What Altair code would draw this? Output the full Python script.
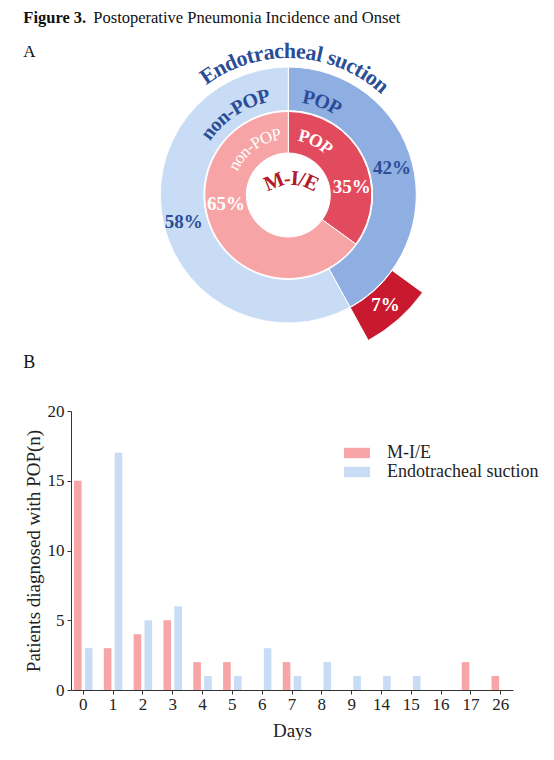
import math
import altair as alt
import pandas as pd

# panel A: share of patients with / without postoperative pneumonia (%)
statuses = ["POP", "non-POP"]
mie_pct = [35, 65]
es_pct = [42, 58]

# panel B: onset day of POP
days = ["0", "1", "2", "3", "4", "5", "6", "7", "8", "9", "14", "15", "16", "17", "26"]
mie_counts = [15, 3, 4, 5, 2, 2, 0, 2, 0, 0, 0, 0, 0, 2, 1]
es_counts = [3, 17, 5, 6, 1, 1, 3, 1, 2, 1, 1, 1, 0, 0, 0]
groups = ["M-I/E", "Endotracheal suction"]

SERIF = "Liberation Serif"
BLUE_TXT = "#2b4d97"
RED_TXT = "#b3182c"
fills = {("M-I/E", "POP"): "#e24a5e", ("M-I/E", "non-POP"): "#f7a4a6",
         ("ES", "POP"): "#8fafe2", ("ES", "non-POP"): "#c8dcf5"}
WEDGE_FILL = "#c8192f"
BAR_COLORS = ["#f8a5a8", "#c8dcf5"]

## panel A shares its x origin with the plot area of panel B
LEFT = -47.7
CX, CY = 217.3, 185   # donut centre inside panel A
theta_scale = alt.Scale(domain=[0, 360], range=[0, 2 * math.pi])

## rough Times glyph widths (em) so curved labels can be laid out char by char
W_REG = {"n": .5, "o": .5, "-": .333, "P": .556, "O": .722, " ": .25}
W_BOLD = {"E": .667, "n": .556, "d": .556, "o": .5, "t": .333, "r": .444, "a": .5,
          "c": .444, "h": .556, "e": .444, "l": .278, " ": .25, "s": .389, "u": .556,
          "i": .278, "-": .333, "P": .611, "O": .778, "M": .944, "I": .389, "/": .278}


def ring_df(name, pcts):
    rows, cum = [], 0
    for s, p in zip(statuses, pcts):
        rows.append({"status": s, "t0": cum * 3.6, "t1": (cum + p) * 3.6,
                     "fill": fills[(name, s)]})
        cum += p
    return pd.DataFrame(rows)


def curved(text, center, r, fs, col, bold=True):
    widths = W_BOLD if bold else W_REG
    w = [widths.get(c, 0.5) * fs for c in text]
    start = center - math.degrees(sum(w) / r) / 2
    rows, cum = [], 0
    for c, wi in zip(text, w):
        d = (start + math.degrees((cum + wi / 2) / r)) % 360
        rows.append(dict(ch=c, deg=d, rot=d, r=r, fs=fs, col=col))
        cum += wi
    return rows


def straight(text, deg, r, fs, col):
    return [dict(ch=text, deg=deg % 360, rot=0, r=r, fs=fs, col=col)]


def arc_layer(df, r_in, r_out):
    return alt.Chart(df).mark_arc(innerRadius=r_in, outerRadius=r_out,
                                  stroke="white", strokeWidth=1).encode(
        theta=alt.Theta("t0:Q", scale=theta_scale, stack=None),
        theta2=alt.Theta2("t1:Q"),
        fill=alt.Fill("fill:N", scale=None),
        x=alt.value(CX), y=alt.value(CY))


def text_layer(rows, bold=True, cx=CX, cy=CY):
    return alt.Chart(pd.DataFrame(rows)).mark_text(
        font=SERIF, fontWeight="bold" if bold else "normal",
        align="center", baseline="middle").encode(
        theta=alt.Theta("deg:Q", scale=theta_scale, stack=None),
        radius=alt.Radius("r:Q", scale=None),
        angle=alt.Angle("rot:Q", scale=None),
        text="ch:N",
        size=alt.Size("fs:Q", scale=None),
        color=alt.Color("col:N", scale=None),
        x=alt.value(cx), y=alt.value(cy))


def plain_text(t, x, y, size, bold=False):
    return alt.Chart(pd.DataFrame({"t": [t]})).mark_text(
        font=SERIF, fontSize=size, fontWeight="bold" if bold else "normal",
        align="left", baseline="alphabetic", color="#111"
    ).encode(text="t:N", x=alt.value(x), y=alt.value(y))


inner = ring_df("M-I/E", mie_pct)
outer = ring_df("ES", es_pct)
wedge = pd.DataFrame([{"t0": mie_pct[0] * 3.6, "t1": es_pct[0] * 3.6, "fill": WEDGE_FILL}])
gap = es_pct[0] - mie_pct[0]

bold_rows = (curved("Endotracheal suction", 3, 144, 22, BLUE_TXT)
             + curved("non-POP", 327, 101, 20, BLUE_TXT)
             + curved("POP", 20, 99, 20, BLUE_TXT)
             + curved("POP", 27, 60, 18, "white")
             + straight(f"{es_pct[0]}%", (es_pct[0] / 2) * 3.6, 107, 19, BLUE_TXT)
             + straight(f"{es_pct[1]}%", (es_pct[0] + es_pct[1] / 2) * 3.6, 108, 19, BLUE_TXT)
             + straight(f"{mie_pct[0]}%", 83, 64, 19, "white")
             + straight(f"{mie_pct[1]}%", 262, 63, 19, "white")
             + straight(f"{gap}%", (mie_pct[0] + gap / 2) * 3.6, 147, 19, "white"))
reg_rows = curved("non-POP", 324, 61, 17, "white", bold=False)
centre_rows = curved("M-I/E", 0, 46, 21, RED_TXT)

donut = alt.layer(
    arc_layer(outer, 84.5, 128),
    arc_layer(inner, 42, 83.5),
    arc_layer(wedge, 128.5, 166),
    text_layer(bold_rows),
    text_layer(reg_rows, bold=False),
    text_layer(centre_rows, cx=CX + 3, cy=CY + 30),
    plain_text("Figure 3.", LEFT, 13, 16.5, bold=True),
    plain_text("Postoperative Pneumonia Incidence and Onset", LEFT + 70, 13, 16.5),
    plain_text("A", LEFT, 47, 17),
    plain_text("B", LEFT, 358, 18),
).properties(width=440, height=396)

bar_df = pd.DataFrame({
    "day": days * 2,
    "group": [groups[0]] * len(days) + [groups[1]] * len(days),
    "n": mie_counts + es_counts,
})

bars = alt.Chart(bar_df).mark_bar().encode(
    x=alt.X("day:N", sort=days,
            scale=alt.Scale(paddingInner=0.38, paddingOuter=0.1),
            axis=alt.Axis(title="Days", labelAngle=0, titleFontSize=19,
                          titlePadding=9, labelPadding=2)),
    xOffset=alt.XOffset("group:N", sort=groups, scale=alt.Scale(paddingInner=0.3)),
    y=alt.Y("n:Q", scale=alt.Scale(domain=[0, 20]),
            axis=alt.Axis(title="Patients diagnosed with POP(n)", values=[0, 5, 10, 15, 20],
                          titleFontSize=19, titlePadding=4, labelPadding=3)),
    color=alt.Color("group:N", sort=groups,
                    scale=alt.Scale(domain=groups, range=BAR_COLORS),
                    legend=alt.Legend(orient="none", legendX=277, legendY=33, title=None,
                                      symbolType="M-2,-0.8H2V0.8H-2Z", symbolSize=169,
                                      symbolStrokeWidth=0, labelOffset=21, rowPadding=1,
                                      padding=0)),
).properties(width=442, height=279)

chart = alt.vconcat(donut, bars, spacing=5, bounds="flush").resolve_scale(
    color="independent"
).properties(
    padding={"left": 15, "top": 2, "right": 0, "bottom": 0}
).configure_view(stroke=None).configure_axis(
    grid=False, domainColor="#333", tickColor="#333", tickSize=4,
    labelFont=SERIF, labelFontSize=17, labelColor="#222",
    titleFont=SERIF, titleFontWeight="normal", titleColor="#222",
).configure_legend(labelFont=SERIF, labelFontSize=18, labelColor="#222")

chart.save("out.html", embed_options={"renderer": "svg", "actions": False})
